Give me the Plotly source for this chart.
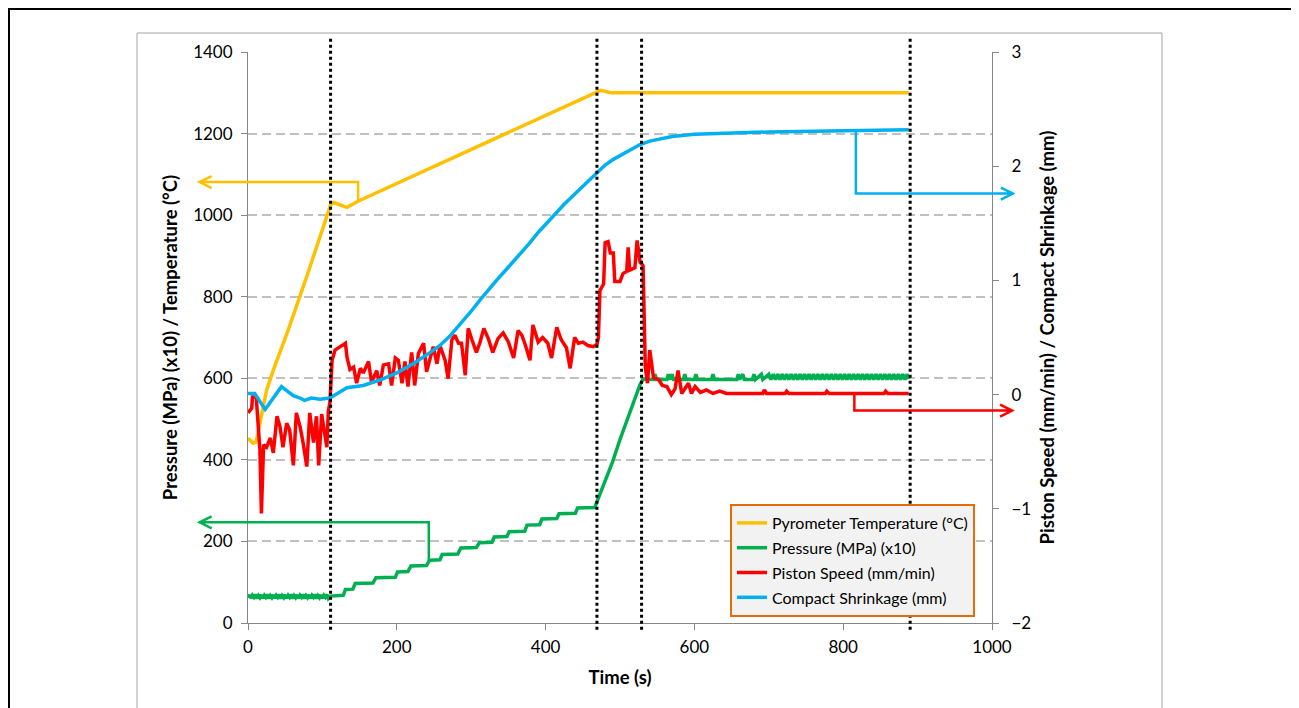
import plotly.graph_objects as go

# ---------------- data ----------------
temp_t = [0, 7, 11, 14, 25, 34, 54, 80, 101, 111, 115, 133, 150, 250, 388, 474, 488, 600, 700, 800, 888]
temp_v = [453, 441, 444, 470, 571, 620, 718, 855, 971, 1025, 1031, 1019, 1036, 1120, 1234, 1306, 1300, 1300, 1300, 1300, 1300]

press_t = [0, 2, 4, 6, 8, 10, 12, 14, 16, 18, 20, 22, 24, 26, 28, 30, 32, 34, 36, 38, 40, 42, 44, 46,
           48, 50, 52, 54, 56, 58, 60, 62, 64, 66, 68, 70, 72, 74, 76, 78, 80, 82, 84, 86, 88, 90, 92,
           94, 96, 98, 100, 102, 104, 106, 108, 111,
           128, 131, 141, 144, 168, 172, 198, 201, 215, 219, 240, 244, 258, 261, 282, 286, 307, 311,
           328, 331, 348, 351, 372, 375, 392, 395, 415, 418, 440, 443, 466, 469, 480, 490, 500, 510,
           520, 527, 531, 545, 547, 549, 563, 565, 567, 570, 572, 585, 587, 589, 600, 602, 604, 623,
           625, 627, 657, 659, 661, 665, 667, 678, 680, 682, 690, 692, 700, 703, 706, 709, 712, 715,
           718, 721, 724, 727, 730, 733, 736, 739, 742, 745, 748, 751, 754, 757, 760, 763, 766, 769,
           772, 775, 778, 781, 784, 787, 790, 793, 796, 799, 802, 805, 808, 811, 814, 817, 820, 823,
           826, 829, 832, 835, 838, 841, 844, 847, 850, 853, 856, 859, 862, 865, 868, 871, 874, 877,
           880, 883, 886, 888]
press_v = [62, 69, 61, 68, 63, 70, 60, 67, 62, 69, 61, 68, 63, 70, 60, 67, 62, 69, 61, 68, 63, 70, 60, 67,
           62, 69, 61, 68, 63, 70, 60, 67, 62, 69, 61, 68, 63, 70, 60, 67, 62, 69, 61, 68, 63, 70, 60,
           67, 62, 69, 61, 68, 63, 70, 60, 66,
           68, 82, 83, 97, 98, 111, 112, 125, 126, 140, 141, 154, 155, 168, 169, 184, 185, 197,
           198, 211, 212, 224, 225, 240, 241, 255, 256, 268, 269, 282, 283, 297, 345, 395, 450, 500,
           545, 585, 598, 597, 610, 597, 597, 610, 597, 610, 597, 597, 610, 597, 597, 610, 597, 597,
           610, 597, 597, 610, 597, 610, 597, 597, 610, 597, 610, 597, 610, 597, 610, 597, 610, 597,
           610, 597, 610, 597, 610, 597, 610, 597, 610, 597, 610, 597, 610, 597, 610, 597, 610, 597,
           610, 597, 610, 597, 610, 597, 610, 597, 610, 597, 610, 597, 610, 597, 610, 597, 610, 597,
           610, 597, 610, 597, 610, 597, 610, 597, 610, 597, 610, 597, 610, 597, 610, 597, 610, 597,
           610, 597, 610, 598]

speed_t = [0, 5, 6, 11, 16, 18, 21, 25, 30, 34, 39, 43, 47, 52, 56, 61, 65, 70, 74, 79, 83, 88, 92, 95,
           99, 102, 106, 108, 110, 113, 117, 124, 131, 133, 137, 142, 146, 151, 155, 162, 166, 173,
           177, 182, 189, 193, 198, 202, 207, 211, 215, 220, 224, 229, 236, 240, 245, 249, 254, 258,
           265, 269, 274, 278, 283, 287, 292, 296, 301, 307, 312, 317, 323, 329, 336, 343, 350, 357,
           363, 368, 372, 379, 383, 390, 396, 403, 408, 415, 421, 428, 433, 439, 444, 450, 457, 464,
           469, 471, 473, 478, 480, 484, 487, 491, 493, 500, 504, 509, 511, 513, 520, 523, 527, 531,
           534, 537, 540, 545, 552, 557, 563, 569, 574, 578, 583, 588, 592, 596, 601, 608, 616, 625,
           634, 643, 652, 692, 694, 697, 722, 724, 727, 776, 778, 781, 855, 857, 860, 888]
speed_v = [-0.16, -0.12, -0.02, -0.02, -0.48, -1.04, -0.44, -0.46, -0.38, -0.51, -0.19, -0.28, -0.46,
           -0.25, -0.31, -0.62, -0.16, -0.28, -0.42, -0.63, -0.16, -0.42, -0.19, -0.62, -0.17, -0.28,
           -0.46, -0.14, -0.08, 0.30, 0.39, 0.42, 0.45, 0.33, 0.22, 0.24, 0.10, 0.23, 0.19, 0.29, 0.11,
           0.21, 0.08, 0.26, 0.27, 0.08, 0.32, 0.30, 0.10, 0.29, 0.07, 0.37, 0.08, 0.36, 0.45, 0.20,
           0.33, 0.42, 0.27, 0.43, 0.30, 0.14, 0.48, 0.52, 0.45, 0.45, 0.17, 0.58, 0.48, 0.37, 0.46,
           0.58, 0.49, 0.37, 0.49, 0.54, 0.46, 0.32, 0.56, 0.52, 0.45, 0.30, 0.61, 0.46, 0.50, 0.45,
           0.32, 0.59, 0.48, 0.41, 0.23, 0.50, 0.45, 0.46, 0.43, 0.42, 0.44, 0.50, 0.91, 0.97, 1.33,
           1.34, 1.24, 1.24, 0.99, 0.99, 1.06, 1.08, 1.29, 1.09, 1.11, 1.35, 1.16, 1.13, 0.24, 0.10,
           0.39, 0.15, 0.13, 0.08, 0.07, 0.00, 0.05, 0.21, 0.01, 0.06, 0.10, 0.01, 0.07, 0.02, 0.04,
           0.01, 0.03, 0.01, 0.01, 0.01, 0.04, 0.01, 0.01, 0.03, 0.01, 0.01, 0.03, 0.01, 0.01, 0.03,
           0.01, 0.01]

shrink_t = [0, 9, 23, 45, 55, 61, 70, 76, 85, 97, 110, 133, 155, 178, 200, 222, 245, 258, 271, 289,
            300, 312, 323, 334, 345, 356, 367, 379, 390, 401, 412, 424, 435, 446, 457, 469, 480, 491,
            504, 515, 527, 540, 554, 570, 600, 650, 700, 800, 888]
shrink_v = [0.01, 0.01, -0.13, 0.07, 0.02, -0.01, -0.03, -0.05, -0.03, -0.04, -0.03, 0.06, 0.08, 0.13,
            0.19, 0.27, 0.37, 0.43, 0.51, 0.64, 0.73, 0.83, 0.92, 1.00, 1.08, 1.16, 1.25, 1.33, 1.42,
            1.50, 1.58, 1.66, 1.73, 1.80, 1.87, 1.94, 2.01, 2.06, 2.11, 2.15, 2.19, 2.22, 2.24, 2.26,
            2.28, 2.29, 2.30, 2.31, 2.32]

stage_times = [111, 469, 529, 890]

# arrows: (x where it leaves the curve, y on curve, y of horizontal run, x of arrow tip, axis)
arrows = [
    dict(color="#FFC000", x=148, y0=1036, y1=1081, tip=-65, axis="left"),
    dict(color="#00B050", x=243, y0=154, y1=247, tip=-65, axis="left"),
    dict(color="#00B0F0", x=817, y0=2.31, y1=1.76, tip=1028, axis="right"),
    dict(color="#FF0000", x=815, y0=0.01, y1=-0.14, tip=1027, axis="right"),
]

X_RANGE = [0, 1000]
Y_RANGE = [0, 1400]
Y2_RANGE = [-2, 3]

# ---------------- figure ----------------
FONT = "Lato, 'Open Sans', sans-serif"
# the page body adds an 8px offset, so the figure is laid out 8px smaller
OFF = 8
W, H = 1299 - OFF, 708 - OFF
PX0, PY0, PX1, PY1 = 248, 52, 992, 623  # plot area in window pixels
ML, MT = PX0 - OFF, PY0 - OFF
PW, PH = PX1 - PX0, PY1 - PY0
MR, MB = W - ML - PW, H - MT - PH

YELLOW, GREEN, RED, BLUE = "#FFC000", "#00B050", "#FF0000", "#00B0F0"

fig = go.Figure()
fig.add_trace(go.Scatter(x=temp_t, y=temp_v, mode="lines", name="Pyrometer Temperature (°C)",
                         line=dict(color=YELLOW, width=3.5), legendgroup="a"))
fig.add_trace(go.Scatter(x=press_t, y=press_v, mode="lines", name="Pressure (MPa) (x10)",
                         line=dict(color=GREEN, width=3.5), legendgroup="b"))
fig.add_trace(go.Scatter(x=speed_t, y=speed_v, mode="lines", name="Piston Speed (mm/min)",
                         line=dict(color=RED, width=3.5), yaxis="y2", legendgroup="c"))
fig.add_trace(go.Scatter(x=shrink_t, y=shrink_v, mode="lines", name="Compact Shrinkage (mm)",
                         line=dict(color=BLUE, width=3.5), yaxis="y2", legendgroup="d"))


def fx(t):
    return (t - X_RANGE[0]) / (X_RANGE[1] - X_RANGE[0])


def fy(v, axis="left"):
    r = Y_RANGE if axis == "left" else Y2_RANGE
    return (v - r[0]) / (r[1] - r[0])


def pxx(px):
    return (px - PX0) / PW


def pxy(py):
    return (PY1 - py) / PH


shapes = []
# outer frames
shapes.append(dict(type="rect", xref="paper", yref="paper",
                   x0=pxx(9), x1=pxx(1292), y0=pxy(740), y1=pxy(9),
                   line=dict(color="#000000", width=2), layer="below"))
shapes.append(dict(type="rect", xref="paper", yref="paper",
                   x0=pxx(137), x1=pxx(1162), y0=pxy(740), y1=pxy(33),
                   line=dict(color="#A6A6A6", width=1), layer="below"))

# stage separators
for t in stage_times:
    shapes.append(dict(type="line", xref="paper", yref="paper", x0=fx(t), x1=fx(t),
                       y0=-0.012, y1=1.025, line=dict(color="#000000", width=3, dash="dot")))

# axis arrows
adx, ady = 12 / PW, 6 / PH
for a in arrows:
    xa = fx(a["x"])
    ya0 = fy(a["y0"], a["axis"])
    ya1 = fy(a["y1"], a["axis"])
    xt = fx(a["tip"])
    s = 1 if xt < xa else -1
    path = (f"M {xa},{ya0} L {xa},{ya1} L {xt},{ya1} "
            f"M {xt + s * adx},{ya1 + ady} L {xt},{ya1} L {xt + s * adx},{ya1 - ady}")
    shapes.append(dict(type="path", xref="paper", yref="paper", path=path,
                       line=dict(color=a["color"], width=2.5)))

axis_common = dict(showline=True, linecolor="#868686", linewidth=1, ticks="outside", ticklen=6,
                   tickcolor="#868686", tickfont=dict(family=FONT, size=17, color="#000000"),
                   zeroline=False)
TITLE_FONT = dict(family=FONT, size=18.5)

fig.update_layout(
    width=W, height=H,
    margin=dict(l=ML, r=MR, t=MT, b=MB, pad=0),
    paper_bgcolor="white", plot_bgcolor="white",
    font=dict(family=FONT, color="#000000"),
    shapes=shapes,
    xaxis=dict(range=X_RANGE, dtick=200, tick0=0, showgrid=False, ticklabelstandoff=3,
               title=dict(text="<b>Time (s)</b>", font=TITLE_FONT, standoff=14),
               **axis_common),
    yaxis=dict(range=Y_RANGE, dtick=200, tick0=0, showgrid=True, gridcolor="#C0C0C0",
               gridwidth=1.5, griddash="9px,5px", ticklabelstandoff=5,
               title=dict(text="<b>Pressure (MPa) (x10) / Temperature (°C)</b>",
                          font=TITLE_FONT, standoff=10),
               **axis_common),
    yaxis2=dict(range=Y2_RANGE, dtick=1, tick0=0, overlaying="y", side="right", showgrid=False,
                ticklabelstandoff=9,
                title=dict(text="<b>Piston Speed (mm/min) / Compact Shrinkage (mm)</b>",
                           font=TITLE_FONT, standoff=10),
                **axis_common),
    showlegend=True,
    legend=dict(x=pxx(730), y=pxy(504), xanchor="left", yanchor="top",
                bgcolor="#F2F2F2", bordercolor="#E46C0A", borderwidth=2,
                font=dict(family=FONT, size=16, color="#000000"),
                traceorder="grouped", tracegroupgap=1, itemwidth=30),
)

fig.write_html("out.html")
